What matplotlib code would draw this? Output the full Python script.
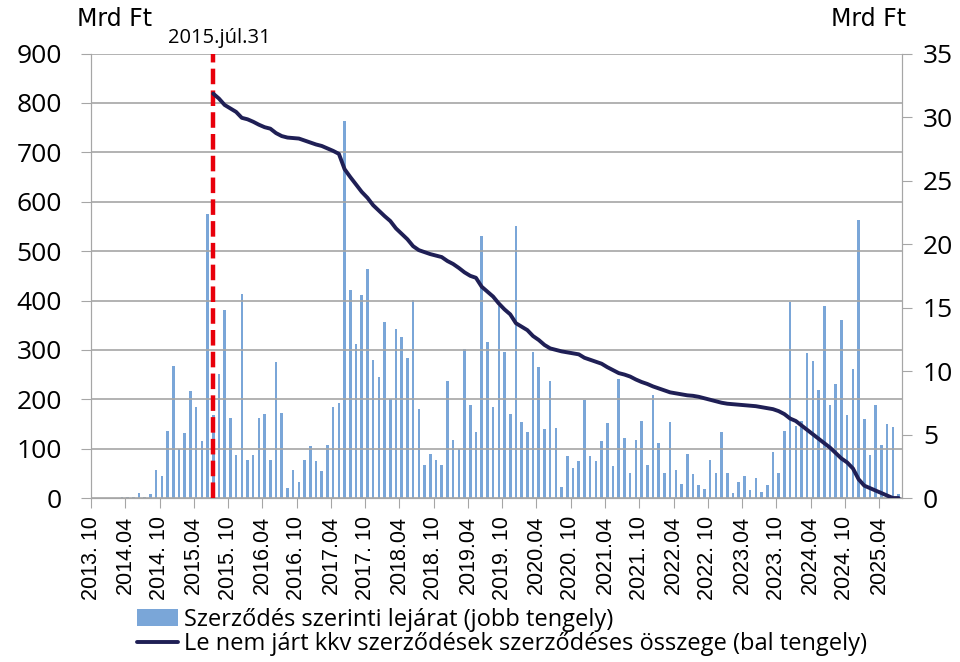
import numpy as np
import matplotlib
matplotlib.use("Agg")
import matplotlib.pyplot as plt

# honapok 2013.10 - 2025.07
months = []
y, m = 2013, 10
for _ in range(142):
    months.append("%d. %02d" % (y, m) if m == 10 else "%d.%02d" % (y, m))
    m += 1
    if m > 12:
        m = 1
        y += 1

# szerzodes szerinti lejarat (jobb tengely, Mrd Ft)
lejarat = [0, 0, 0, 0, 0, 0.1, 0.1, 0.1, 0.4, 0.1, 0.35, 2.2, 1.7, 5.3, 10.4, 3.9,
           5.1, 8.4, 7.2, 4.5, 22.4, 6.5, 9.8, 14.8, 6.3, 3.4, 16.1, 3.0, 3.4, 6.3,
           6.6, 3.0, 10.7, 6.7, 0.8, 2.2, 1.3, 3.0, 4.1, 2.9, 2.1, 4.2, 7.2, 7.5,
           29.7, 16.4, 12.1, 16.0, 18.0, 10.9, 9.5, 13.9, 7.8, 13.3, 12.7, 11.0,
           15.6, 7.0, 2.6, 3.5, 3.0, 2.6, 9.2, 4.6, 3.9, 11.7, 7.3, 5.2, 20.6, 12.3,
           7.2, 15.1, 11.5, 6.6, 21.4, 6.0, 5.2, 11.5, 10.3, 5.4, 9.2, 5.5, 0.9,
           3.3, 2.4, 2.9, 7.7, 3.3, 2.9, 4.5, 5.9, 2.5, 9.4, 4.7, 2.0, 4.6, 6.1,
           2.6, 8.1, 4.3, 2.0, 6.0, 2.2, 1.1, 3.5, 1.9, 1.0, 0.7, 3.0, 2.0, 5.2,
           2.0, 0.4, 1.3, 1.7, 0.6, 1.6, 0.5, 1.0, 3.6, 2.0, 5.3, 15.4, 5.7, 6.1,
           11.4, 10.8, 8.5, 15.1, 7.3, 9.0, 14.0, 6.5, 10.2, 21.9, 6.2, 3.4, 7.3,
           4.2, 5.8, 5.6, 0.3]

# le nem jart szerzodesek osszege (bal tengely), 2015.07-tol
osszeg = [819, 809, 796, 789, 782, 770, 767, 762, 756, 751, 748, 739, 733, 730,
          729, 728, 724, 720, 716, 713, 708, 703, 697, 666, 650, 635, 620, 608,
          593, 582, 571, 561, 546, 535, 524, 510, 502, 498, 494, 491, 488, 480,
          474, 466, 457, 450, 446, 428, 418, 408, 394, 382, 372, 354, 347, 340,
          328, 320, 310, 303, 300, 297, 295, 293, 291, 284, 280, 276, 272, 265,
          259, 253, 250, 246, 240, 235, 231, 226, 222, 218, 214, 212, 210, 208,
          207, 205, 202, 199, 196, 193, 191, 190, 189, 188, 187, 186, 184, 182,
          180, 176, 170, 161, 156, 147, 138, 129, 120, 111, 102, 91, 80, 72, 60,
          38, 25, 20, 15, 10, 5, 0, 0]
start = 21  # 2015.07

bar_color = "#7aa6d8"
line_color = "#1f1f55"
grid_color = "#a6a6a6"

fig = plt.figure(figsize=(9.6, 6.62), dpi=100)
ax = fig.add_axes([0.0948, 0.2477, 0.8448, 0.6713])
ax2 = ax.twinx()

x = np.arange(len(months)) + 0.4
ax2.bar(x, lejarat, width=0.45, color=bar_color, zorder=2,
        label="Szerződés szerinti lejárat (jobb tengely)")
xl = x[start:start + len(osszeg)]
ax.plot(xl, osszeg, color=line_color, lw=2.8, zorder=4, solid_capstyle="round",
        label="Le nem járt kkv szerződések szerződéses összege (bal tengely)")

# bal tengely a rudak fole
ax.set_zorder(ax2.get_zorder() + 1)
ax.patch.set_visible(False)

ax.axvline(x[start], color="#e8000b", lw=3.2, ls=(0, (3.5, 1.4)), zorder=3)
ax.text(x[start] + 1, 912, "2015.júl.31", ha="center", va="bottom",
        fontsize=14.5, family="Open Sans")

ax.set_xlim(0, 142)
ax.set_ylim(0, 900)
ax2.set_ylim(0, 35)
ax.set_yticks(range(0, 901, 100))
ax2.set_yticks(range(0, 36, 5))
ax.grid(axis="y", color=grid_color, lw=1.2, zorder=0)

ticks = [i for i in range(len(months)) if months[i][-2:] in ("04", "10")]
ax.set_xticks(ticks)
ax.set_xticklabels([months[i] for i in ticks], rotation=90, fontsize=15.5,
                   family="Liberation Sans")

for a in (ax, ax2):
    for s in a.spines.values():
        s.set_color(grid_color)
    a.spines["top"].set_visible(False)
ax.tick_params(axis="x", length=7, color=grid_color, pad=6)
ax.tick_params(axis="y", length=7, color=grid_color, pad=14, labelsize=19)
ax2.tick_params(axis="y", length=7, color=grid_color, pad=8, labelsize=19)
for lab in ax.get_yticklabels() + ax2.get_yticklabels():
    lab.set_family("Open Sans")

fig.text(0.1198, 0.972, "Mrd Ft", ha="center", va="center", fontsize=17, family="DejaVu Sans")
fig.text(0.905, 0.972, "Mrd Ft", ha="center", va="center", fontsize=17, family="DejaVu Sans")

h2, l2 = ax2.get_legend_handles_labels()
h1, l1 = ax.get_legend_handles_labels()
fig.legend(h2 + h1, l2 + l1, loc="lower left", bbox_to_anchor=(0.128, -0.012),
           frameon=False, prop={"family": "Open Sans", "size": 17},
           handlelength=1.75, handletextpad=0.25, labelspacing=0.0,
           borderaxespad=0.2)

fig.savefig("out.png", dpi=100)
